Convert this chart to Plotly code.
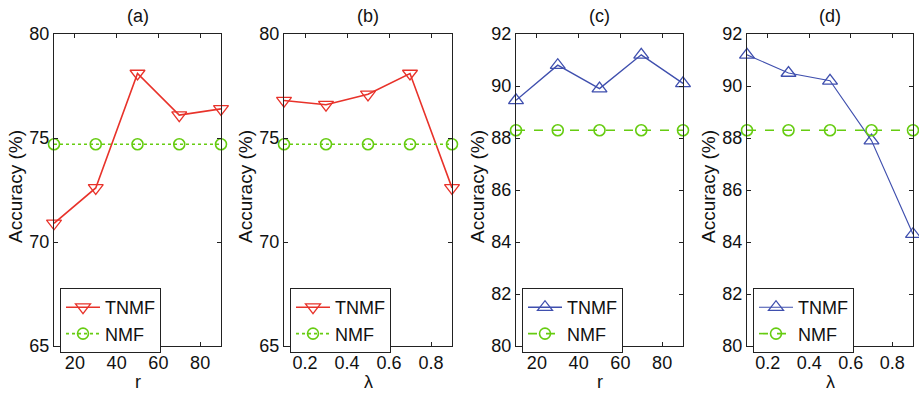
import plotly.graph_objects as go

r_vals = [10, 30, 50, 70, 90]
lam_vals = [0.1, 0.3, 0.5, 0.7, 0.9]

tnmf_a = [70.9, 72.6, 78.1, 76.1, 76.4]
nmf_a = [74.7, 74.7, 74.7, 74.7, 74.7]
tnmf_b = [76.8, 76.6, 77.1, 78.1, 72.6]
nmf_b = [74.7, 74.7, 74.7, 74.7, 74.7]
tnmf_c = [89.45, 90.8, 89.9, 91.2, 90.1]
nmf_c = [88.3, 88.3, 88.3, 88.3, 88.3]
tnmf_d = [91.2, 90.5, 90.2, 87.9, 84.3]
nmf_d = [88.3, 88.3, 88.3, 88.3, 88.3]

titles = ["(a)", "(b)", "(c)", "(d)"]
xlabels = ["r", "λ", "r", "λ"]
ylabel = "Accuracy (%)"

RED = "#e8322a"
BLUE = "#3f4fae"
GREEN = "#66cc11"
FONT = "Arial, Liberation Sans, sans-serif"
TXT = "#111"

W, H = 919, 393
panels_px = [(54, 221), (284, 452), (516, 683), (747, 913)]
top_px, bot_px = 34, 346

panels = [
    (r_vals, tnmf_a, nmf_a, RED, "triangle-down-open", "dot", [65, 80], [65, 70, 75, 80], [10, 90], [20, 40, 60, 80], 1.6),
    (lam_vals, tnmf_b, nmf_b, RED, "triangle-down-open", "dot", [65, 80], [65, 70, 75, 80], [0.1, 0.9], [0.2, 0.4, 0.6, 0.8], 1.6),
    (r_vals, tnmf_c, nmf_c, BLUE, "triangle-up-open", "dash", [80, 92], [80, 82, 84, 86, 88, 90, 92], [10, 90], [20, 40, 60, 80], 1.4),
    (lam_vals, tnmf_d, nmf_d, BLUE, "triangle-up-open", "dash", [80, 92], [80, 82, 84, 86, 88, 90, 92], [0.1, 0.9], [0.2, 0.4, 0.6, 0.8], 1.1),
]

fig = go.Figure()
layout = {}
annotations = []
for i, (xv, t, n, col, sym, dash, yr, yt, xr, xt, lw) in enumerate(panels):
    k = "" if i == 0 else str(i + 1)
    leg = "legend" if i == 0 else f"legend{i+1}"
    fig.add_trace(go.Scatter(
        x=xv, y=t, mode="lines+markers", name="TNMF",
        line=dict(color=col, width=lw),
        marker=dict(symbol=sym, size=13, color=col, line=dict(width=1.3, color=col)),
        xaxis="x" + k, yaxis="y" + k, legend=leg, cliponaxis=False))
    fig.add_trace(go.Scatter(
        x=xv, y=n, mode="lines+markers", name="NMF",
        line=dict(color=GREEN, width=1.6, dash=dash),
        marker=dict(symbol="circle-open", size=11, color=GREEN, line=dict(width=1.6, color=GREEN)),
        xaxis="x" + k, yaxis="y" + k, legend=leg, cliponaxis=False))
    x0, x1 = panels_px[i]
    axstyle = dict(showline=True, mirror="ticks", linecolor="#222", linewidth=1,
                   ticks="inside", ticklen=4, tickcolor="#222", showgrid=False, zeroline=False,
                   automargin=False,
                   tickfont=dict(family=FONT, size=18, color=TXT))
    layout["xaxis" + k] = dict(domain=[x0 / W, x1 / W], range=xr, tickvals=xt,
                               anchor="y" + k, **axstyle)
    layout["yaxis" + k] = dict(domain=[1 - bot_px / H, 1 - top_px / H], range=yr, tickvals=yt,
                               anchor="x" + k, **axstyle)
    layout[leg] = dict(x=(x0 + 6) / W, y=1 - 288 / H, xanchor="left", yanchor="top",
                       bgcolor="white", bordercolor="#222", borderwidth=1,
                       font=dict(family=FONT, size=18, color=TXT),
                       tracegroupgap=0, itemwidth=34)
    annotations.append(dict(text=titles[i], x=(x0 + x1) / 2 / W, y=1 - 16 / H,
                            xref="paper", yref="paper", showarrow=False,
                            xanchor="center", yanchor="middle",
                            font=dict(family=FONT, size=18, color=TXT)))
    annotations.append(dict(text=xlabels[i], x=(x0 + x1) / 2 / W, y=1 - 382 / H,
                            xref="paper", yref="paper", showarrow=False,
                            xanchor="center", yanchor="middle",
                            font=dict(family=FONT, size=18, color=TXT)))
    annotations.append(dict(text=ylabel, x=(x0 - 39) / W, y=1 - 187 / H,
                            xref="paper", yref="paper", showarrow=False, textangle=-90,
                            xanchor="center", yanchor="middle",
                            font=dict(family=FONT, size=19, color=TXT)))

fig.update_layout(width=W, height=H, margin=dict(l=0, r=0, t=0, b=0, autoexpand=False),
                  plot_bgcolor="white", paper_bgcolor="white",
                  annotations=annotations, showlegend=True, **layout)
fig.write_html("out.html", config={"displayModeBar": False},
               post_script="document.body.style.margin='0';document.body.style.overflow='hidden';")
